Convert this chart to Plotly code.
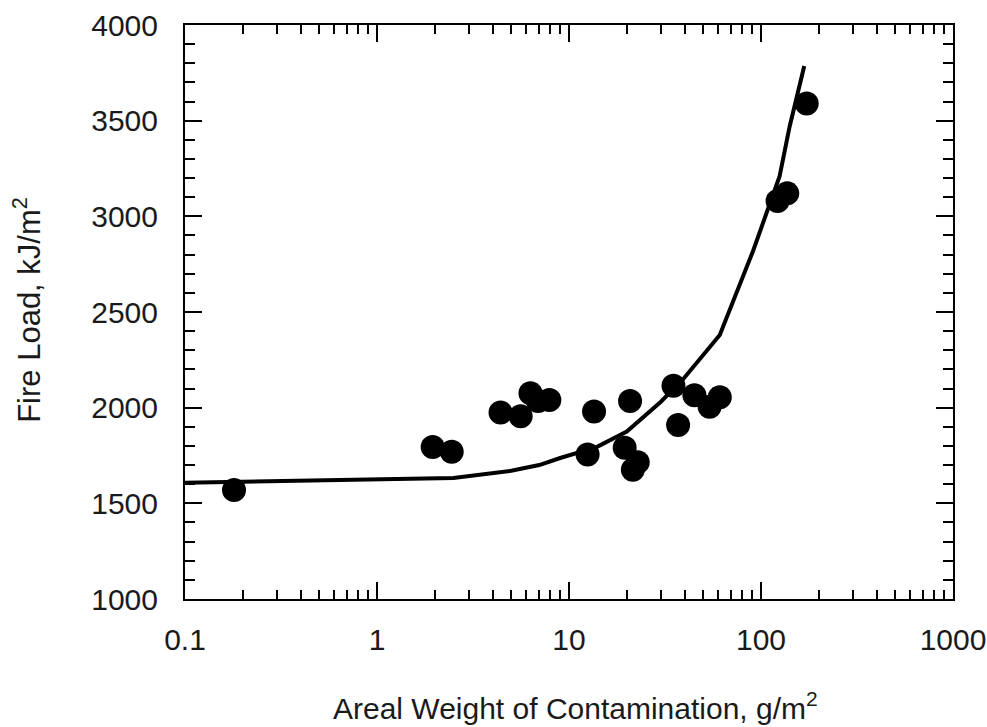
import plotly.graph_objects as go

# Measured samples: areal weight of contamination (g/m^2) vs fire load (kJ/m^2)
weight = [0.18, 1.95, 2.45, 4.4, 5.6, 6.3, 6.9, 7.9, 13.5, 20.8, 12.5, 19.5, 21.5, 22.8,
          35.0, 37.0, 45.0, 54.0, 61.0, 122.0, 137.0, 173.0]
fire_load = [1570, 1795, 1770, 1975, 1955, 2075, 2035, 2040, 1980, 2035, 1755, 1790, 1675, 1715,
             2115, 1910, 2065, 2005, 2055, 3080, 3120, 3590]

# Fitted curve
fit_weight = [0.1, 2.5, 5, 7, 9, 14, 20, 30, 39, 61, 91, 125, 141, 168]
fit_load = [1608, 1632, 1670, 1700, 1737, 1795, 1875, 2030, 2145, 2380, 2820, 3210, 3470, 3786]

x_ticks = [0.1, 1, 10, 100, 1000]
x_tick_text = ["0.1", "1", "10", "100", "1000"]
x_minor = [m * d for d in (0.1, 1, 10, 100) for m in range(2, 10)]
y_ticks = [1000, 1500, 2000, 2500, 3000, 3500, 4000]

font_family = "Liberation Sans, Arial, Helvetica, sans-serif"
text_color = "#1a1a1a"

fig = go.Figure()
fig.add_trace(go.Scatter(
    x=fit_weight, y=fit_load, mode="lines",
    line=dict(color="black", width=4),
    hoverinfo="skip", showlegend=False,
))
fig.add_trace(go.Scatter(
    x=weight, y=fire_load, mode="markers",
    marker=dict(color="black", size=24, line=dict(width=0)),
    showlegend=False,
))

fig.update_layout(
    width=987, height=727,
    margin=dict(l=185, r=34, t=25, b=128, autoexpand=False),
    paper_bgcolor="white", plot_bgcolor="white",
    font=dict(family=font_family, size=30, color=text_color),
    xaxis=dict(
        type="log", range=[-1, 3],
        tickvals=x_ticks, ticktext=x_tick_text,
        ticks="inside", ticklen=17, tickwidth=2, tickcolor="black",
        minor=dict(tickvals=x_minor, ticks="inside", ticklen=9, tickwidth=2,
                   tickcolor="black", showgrid=False),
        showline=True, linecolor="black", linewidth=2, mirror="ticks",
        showgrid=False, zeroline=False, automargin=False,
        ticklabelstandoff=13,
        tickfont=dict(size=30),
    ),
    yaxis=dict(
        range=[1000, 4000],
        tickvals=y_ticks,
        ticks="inside", ticklen=17, tickwidth=2, tickcolor="black",
        minor=dict(ticks="inside", ticklen=10, tickwidth=2, tickcolor="black",
                   dtick=100, showgrid=False),
        showline=True, linecolor="black", linewidth=2, mirror="ticks",
        showgrid=False, zeroline=False, automargin=False,
        ticklabelstandoff=19,
        tickfont=dict(size=30),
    ),
    annotations=[
        dict(text="Areal Weight of Contamination, g/m<sup>2</sup>",
             xref="paper", yref="paper", x=0.508, y=-0.186,
             xanchor="center", yanchor="middle", showarrow=False,
             font=dict(size=30, color=text_color)),
        dict(text="Fire Load, kJ/m<sup>2</sup>",
             xref="paper", yref="paper", x=-0.205, y=0.503, textangle=-90,
             xanchor="center", yanchor="middle", showarrow=False,
             font=dict(size=31, color=text_color)),
    ],
)

fig.write_html("out.html")
